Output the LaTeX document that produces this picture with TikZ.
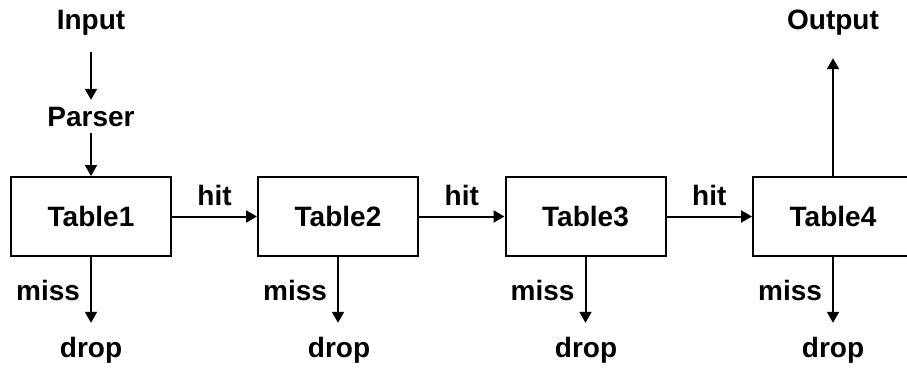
\documentclass[tikz,border=0pt]{standalone}
\usepackage{fontspec}
\setmainfont{Liberation Sans}
\usetikzlibrary{arrows.meta}
\begin{document}
\begin{tikzpicture}[x=1pt,y=-1pt,
  lbl/.style={font=\fontsize{28}{30}\selectfont\bfseries, inner sep=0pt,
              text height=20pt, text depth=6pt, anchor=base},
  tablebox/.style={draw, line width=2pt, minimum width=160pt, minimum height=79pt,
                   font=\fontsize{28}{30}\selectfont\bfseries, inner sep=0pt},
  arr/.style={line width=2pt, -{Triangle[length=11pt,width=12pt]}},
  hitlbl/.style={lbl, anchor=base, yshift=11.5pt},
  misslbl/.style={lbl, anchor=base east, xshift=-10pt}
]
\clip (0,0) rectangle (907,367);
\useasboundingbox (0,0) rectangle (907,367);
\fill[white] (0,0) rectangle (907,367);

% pipeline stages
\node[tablebox] (t1) at (91,216.5)  {Table1};
\node[tablebox] (t2) at (338,216.5) {Table2};
\node[tablebox] (t3) at (585.5,216.5) {Table3};
\node[tablebox] (t4) at (833,216.5) {Table4};

% entry and exit labels
\node[lbl] (in)  at (91,29)  {Input};
\node[lbl] (par) at (91,126) {Parser};
\node[lbl] (out) at (833,29) {Output};

\node[lbl] (d1) at (91,357)  {drop};
\node[lbl] (d2) at (339,357) {drop};
\node[lbl] (d3) at (586,357) {drop};
\node[lbl] (d4) at (833,357) {drop};

% input path
\draw[arr, shorten <=17pt, shorten >=6pt] (in) -- (par);
\draw[arr, shorten <=1pt] (par) -- (t1.north);

% hit chain
\draw[arr] (t1) -- node[hitlbl] (h1) {hit} (t2);
\draw[arr] (t2) -- node[hitlbl] (h2) {hit} (t3);
\draw[arr] (t3) -- node[hitlbl] (h3) {hit} (t4);

% output
\draw[arr, shorten >=23pt] (t4.north) -- (out.south);

% miss branches
\draw[arr, shorten >=14pt] (t1.south) -- node[pos=0.55, misslbl] (m1) {miss} (d1.north -| t1.south);
\draw[arr, shorten >=14pt] (t2.south) -- node[pos=0.55, misslbl] (m2) {miss} (d2.north -| t2.south);
\draw[arr, shorten >=14pt] (t3.south) -- node[pos=0.55, misslbl] (m3) {miss} (d3.north -| t3.south);
\draw[arr, shorten >=14pt] (t4.south) -- node[pos=0.55, misslbl] (m4) {miss} (d4.north -| t4.south);
\end{tikzpicture}
\end{document}
